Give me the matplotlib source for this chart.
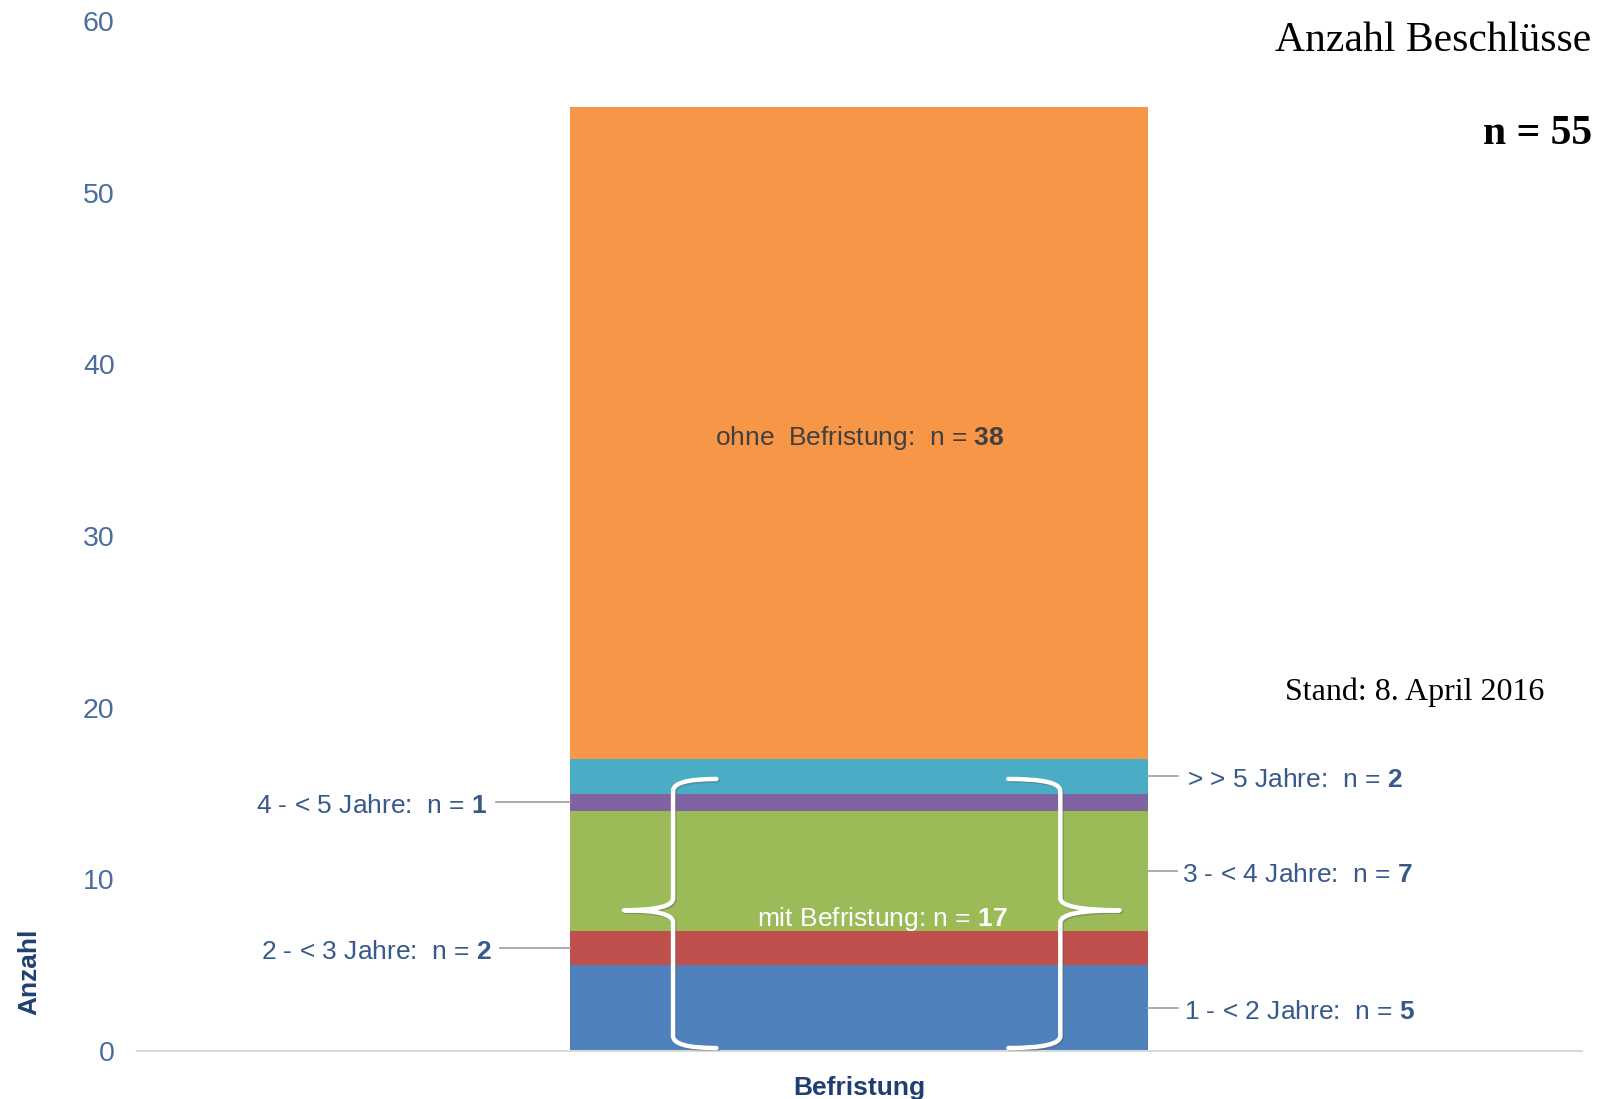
import matplotlib
matplotlib.use("Agg")
import matplotlib.pyplot as plt
from matplotlib.path import Path
from matplotlib.patches import PathPatch
import matplotlib.patheffects as pe

plt.rcParams["font.family"] = ["Liberation Sans", "DejaVu Sans"]
plt.rcParams["mathtext.fontset"] = "custom"
plt.rcParams["mathtext.rm"] = "Liberation Sans"
plt.rcParams["mathtext.bf"] = "Liberation Sans:bold"

# Stacked segments of the single "Befristung" bar (bottom to top)
segments = ["1 - < 2 Jahre", "2 - < 3 Jahre", "3 - < 4 Jahre", "4 - < 5 Jahre",
            "> > 5 Jahre", "ohne Befristung"]
counts = [5, 2, 7, 1, 2, 38]
colors = ["#4F81BD", "#C0504D", "#9BBB59", "#8064A2", "#4BACC6", "#F79646"]
category = "Befristung"
yticks = [0, 10, 20, 30, 40, 50, 60]

total = sum(counts)
n_mit = sum(counts[:5])

label_col = "#38598C"
tick_col = "#4A6C9E"

fig = plt.figure(figsize=(16.11, 10.99), dpi=100)
ax = fig.add_axes([0.085, 0.0437, 0.897, 0.937])

bottom = 0
for seg, c, col in zip(segments, counts, colors):
    ax.bar(0, c, width=0.4, bottom=bottom, color=col, edgecolor="none", zorder=2)
    bottom += c

ax.set_xlim(-0.5, 0.5)
ax.set_ylim(0, 60)
ax.set_yticks(yticks)
ax.set_xticks([0])
ax.set_xticklabels([category], fontsize=19, fontweight="bold", color="#1F3F73")
ax.tick_params(axis="y", length=0, pad=16, labelsize=20.5, labelcolor=tick_col)
ax.tick_params(axis="x", length=0, pad=18)
for s in ["top", "right", "left"]:
    ax.spines[s].set_visible(False)
ax.spines["bottom"].set_color("#D9D9D9")
ax.spines["bottom"].set_linewidth(1.5)

fig.text(0.018, 0.116, "Anzahl", rotation=90, fontsize=19, fontweight="bold",
         color="#1F3F73", ha="center", va="center")

# Segment mid-points
mids = []
b = 0
for c in counts:
    mids.append(b + c / 2)
    b += c

dy = -0.22  # visual centring of the text against its leader line

# Labels with leader lines, left side
left_labels = [(3, -0.2575, -0.2515), (1, -0.2540, -0.2488)]
for idx, xt, xl in left_labels:
    ax.plot([xl, -0.2], [mids[idx], mids[idx]], color="#A6A6A6", lw=1.3, zorder=3)
    ax.text(xt, mids[idx] + dy, f"{segments[idx]}:  n = $\\mathbf{{{counts[idx]}}}$",
            ha="right", va="center", fontsize=19, color=label_col)

# Labels with leader lines, right side
right_labels = [(4, 0.2266, 0.2204), (2, 0.2232, 0.2197), (0, 0.2246, 0.2204)]
for idx, xt, xl in right_labels:
    ax.plot([0.2, xl], [mids[idx], mids[idx]], color="#A6A6A6", lw=1.3, zorder=3)
    ax.text(xt, mids[idx] + dy, f"{segments[idx]}:  n = $\\mathbf{{{counts[idx]}}}$",
            ha="left", va="center", fontsize=19, color=label_col)

# Label inside the orange block
ax.text(0, mids[5] - 0.3, f"ohne  Befristung:  n = $\\mathbf{{{counts[5]}}}$",
        ha="center", va="center", fontsize=19, color="#404040", zorder=4)

# Curly braces grouping the time-limited segments
def brace(xv, xh, xt, yt, yb, ym, r=0.7):
    verts = [(xh, yt), (xv, yt), (xv, yt - r),
             (xv, ym + r), (xv, ym), (xt, ym),
             (xv, ym), (xv, ym - r),
             (xv, yb + r), (xv, yb), (xh, yb)]
    codes = [Path.MOVETO, Path.CURVE3, Path.CURVE3,
             Path.LINETO, Path.CURVE3, Path.CURVE3,
             Path.CURVE3, Path.CURVE3,
             Path.LINETO, Path.CURVE3, Path.CURVE3]
    p = PathPatch(Path(verts, codes), facecolor="none", edgecolor="white",
                  lw=3.2, capstyle="round", joinstyle="round", zorder=5)
    p.set_path_effects([pe.SimpleLineShadow(offset=(1, -1), shadow_color="#555555",
                                            alpha=0.35), pe.Normal()])
    ax.add_patch(p)

brace(-0.129, -0.099, -0.163, 15.85, 0.17, 8.2)
brace(0.139, 0.103, 0.180, 15.85, 0.17, 8.2)

ax.text(0.016, 7.7, f"mit Befristung: n = $\\mathbf{{{n_mit}}}$",
        ha="center", va="center", fontsize=19, color="white", zorder=6)

# Header texts
fig.text(0.988, 0.9540, "Anzahl Beschlüsse", ha="right", va="baseline",
         fontsize=30, family="Liberation Serif", color="black")
fig.text(0.988, 0.8690, f"n = {total}", ha="right", va="baseline",
         fontsize=30, fontweight="bold", family="Liberation Serif", color="black")
fig.text(0.878, 0.363, "Stand: 8. April 2016", ha="center", va="baseline",
         fontsize=23, family="Liberation Serif", color="black")

fig.savefig("out.png", dpi=100)
